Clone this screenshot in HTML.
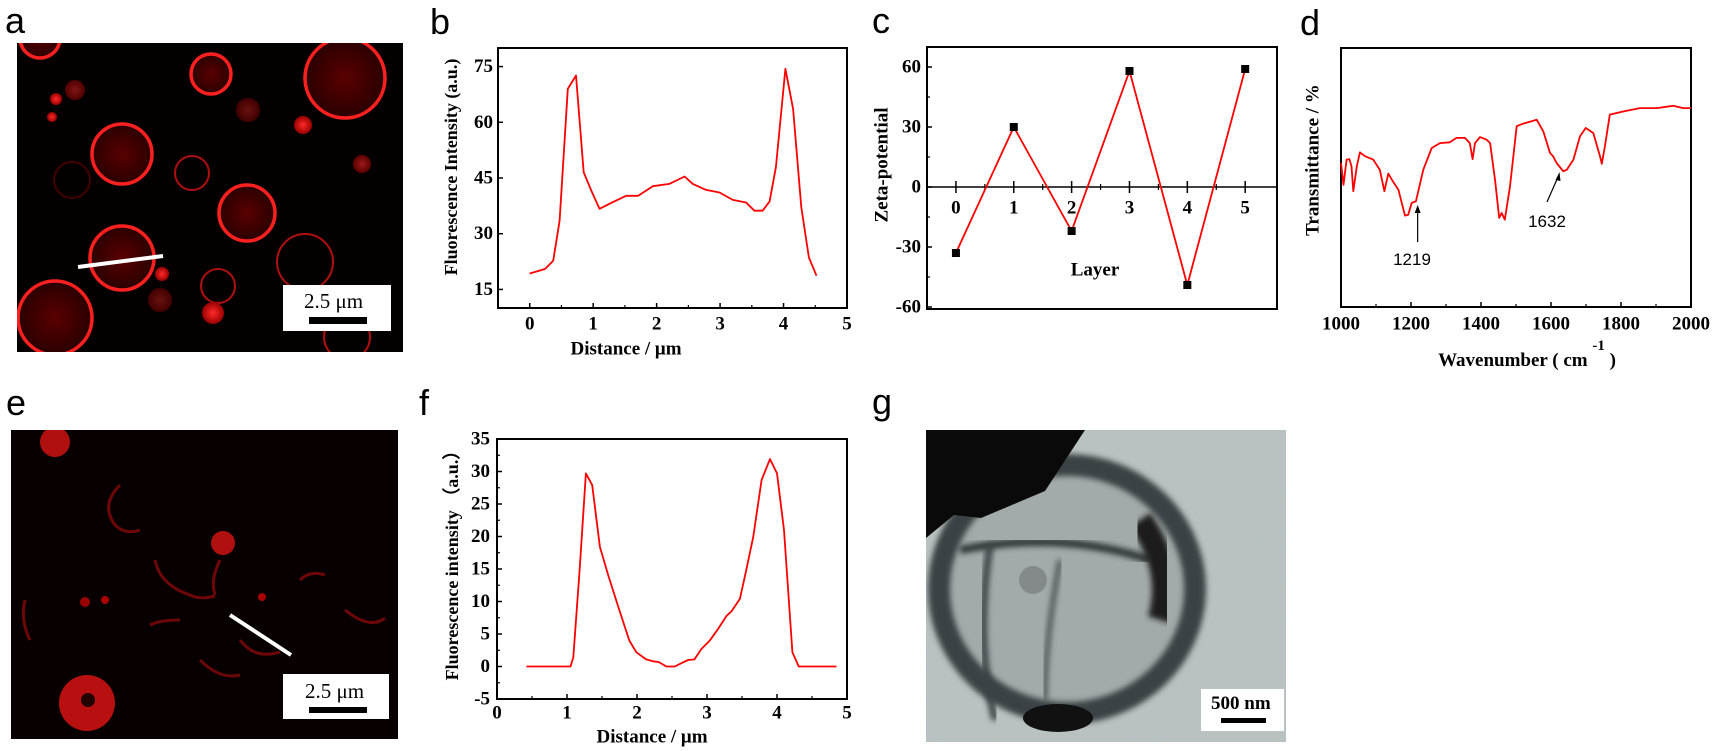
<!DOCTYPE html>
<html><head><meta charset="utf-8"><style>
html,body{margin:0;padding:0;background:#fff;}
svg{display:block;}
.ser{font-family:"Liberation Serif",serif;font-weight:bold;}
.lab{font-family:"Liberation Sans",sans-serif;font-size:36px;}
</style></head><body>
<svg id="fig" width="1716" height="751" viewBox="0 0 1716 751" xmlns="http://www.w3.org/2000/svg">
<defs>
<radialGradient id="cellg" cx="50%" cy="50%" r="50%"><stop offset="0%" stop-color="#5a0000"/><stop offset="100%" stop-color="#2a0000"/></radialGradient>
<radialGradient id="blob" cx="50%" cy="50%" r="50%"><stop offset="0%" stop-color="#ff2a2a"/><stop offset="100%" stop-color="#990000"/></radialGradient>
<filter id="noise" x="0" y="0" width="100%" height="100%"><feTurbulence type="fractalNoise" baseFrequency="0.25" numOctaves="2" seed="3"/><feColorMatrix values="0 0 0 0 0.5  0 0 0 0 0.52  0 0 0 0 0.52  0 0 0 0.35 0"/></filter>
<filter id="blur3"><feGaussianBlur stdDeviation="3"/></filter>
<clipPath id="clipA"><rect x="17" y="43" width="386" height="309"/></clipPath>
<clipPath id="clipE"><rect x="11" y="430" width="387" height="309"/></clipPath>
<clipPath id="clipG"><rect x="926" y="430" width="360" height="312"/></clipPath>
</defs>

<!-- Panel labels -->
<text class="lab" x="5" y="33">a</text>
<text class="lab" x="430" y="34">b</text>
<text class="lab" x="872" y="33">c</text>
<text class="lab" x="1300" y="35">d</text>
<text class="lab" x="6" y="415">e</text>
<text class="lab" x="419" y="415">f</text>
<text class="lab" x="872" y="414">g</text>

<!-- Panel a: fluorescence image -->
<g clip-path="url(#clipA)">
<rect x="17" y="43" width="386" height="309" fill="#050000"/>
<g fill="url(#cellg)" stroke="#ff2020" stroke-width="3.5">
<circle cx="40" cy="38" r="20"/><circle cx="211" cy="74" r="20"/><circle cx="345" cy="78" r="40"/>
<circle cx="122" cy="154" r="30"/><circle cx="247" cy="213" r="28"/><circle cx="122" cy="258" r="32"/>
<circle cx="55" cy="318" r="37"/>
</g>
<g fill="none" stroke="#b01010" stroke-width="2">
<circle cx="192" cy="173" r="17"/><circle cx="305" cy="262" r="28"/><circle cx="218" cy="286" r="17"/><circle cx="347" cy="337" r="23"/><circle cx="72" cy="180" r="18" stroke="#400"/>
</g>
<g fill="url(#blob)">
<circle cx="303" cy="125" r="9"/><circle cx="213" cy="313" r="11"/><circle cx="162" cy="274" r="7"/><circle cx="56" cy="99" r="6"/><circle cx="52" cy="117" r="5"/><circle cx="362" cy="164" r="9" opacity=".6"/>
<circle cx="75" cy="90" r="10" opacity=".5"/><circle cx="248" cy="110" r="12" opacity=".4"/><circle cx="160" cy="300" r="12" opacity=".4"/>
</g>
<line x1="78" y1="267" x2="163" y2="256" stroke="#fff" stroke-width="4"/>
<rect x="283" y="285" width="108" height="46" fill="#fff"/>
<text x="304" y="308" font-family="Liberation Serif,serif" font-size="21">2.5 μm</text>
<rect x="309" y="317" width="58" height="7" fill="#000"/>
</g>

<!-- Panel e -->
<g clip-path="url(#clipE)">
<rect x="11" y="430" width="387" height="309" fill="#080000"/>
<g fill="none" stroke="#7a0808" stroke-width="3" opacity=".9">
<path d="M120 485 Q100 505 115 525 Q125 535 140 530"/>
<path d="M155 560 Q160 585 190 595 Q200 600 215 596"/>
<path d="M150 625 Q160 620 180 620"/>
<path d="M220 560 Q210 580 215 595"/>
<path d="M240 640 Q255 660 280 652"/>
<path d="M300 580 Q310 570 325 575"/>
<path d="M345 610 Q370 630 385 618"/>
<path d="M200 660 Q220 680 240 675"/>
<path d="M25 600 Q20 620 30 640"/>
</g>
<circle cx="55" cy="442" r="15" fill="#b01010"/>
<circle cx="223" cy="543" r="12" fill="#b01010"/>
<circle cx="87" cy="703" r="28" fill="#b81010"/>
<circle cx="88" cy="700" r="7" fill="#200"/>
<circle cx="262" cy="597" r="4" fill="#a00"/><circle cx="105" cy="600" r="4" fill="#a00"/><circle cx="85" cy="602" r="5" fill="#900"/>
<line x1="230" y1="615" x2="291" y2="655" stroke="#fff" stroke-width="4"/>
<rect x="283" y="674" width="106" height="45" fill="#fff"/>
<text x="305" y="698" font-family="Liberation Serif,serif" font-size="21">2.5 μm</text>
<rect x="309" y="707" width="58" height="6" fill="#000"/>
</g>

<!-- Panel g: TEM image -->
<g clip-path="url(#clipG)">
<rect x="926" y="430" width="360" height="312" fill="#b9c2c2"/>
<rect x="926" y="430" width="360" height="312" filter="url(#noise)"/>
<ellipse cx="1067" cy="589" rx="128" ry="124" fill="#a3aaab"/>
<ellipse cx="1067" cy="589" rx="128" ry="124" fill="none" stroke="#3b4244" stroke-width="22" filter="url(#blur3)"/>
<path d="M926 430 L1085 430 L1045 491 L981 518 L954 515 L926 538 Z" fill="#0a0a0a"/>
<path d="M960 550 Q1060 530 1150 560" fill="none" stroke="#2f3536" stroke-width="8" filter="url(#blur3)"/>
<path d="M990 545 Q975 640 995 720" fill="none" stroke="#3b4244" stroke-width="7" filter="url(#blur3)"/>
<path d="M1060 560 Q1045 640 1045 700" fill="none" stroke="#4a5254" stroke-width="5" filter="url(#blur3)"/>
<path d="M1140 520 Q1175 570 1160 620" fill="none" stroke="#1a1d1e" stroke-width="25" filter="url(#blur3)"/>
<ellipse cx="1058" cy="718" rx="35" ry="14" fill="#111"/>
<ellipse cx="1033" cy="580" rx="14" ry="14" fill="#7c8283" opacity=".8"/>
<rect x="1201" y="689" width="83" height="42" fill="#fff"/>
<text x="1211" y="709" class="ser" font-size="19">500 nm</text>
<rect x="1221" y="718" width="45" height="5" fill="#000"/>
</g>

<g id="charts"></g>
</svg>
<script>
// ---- Panel b data ----
var bX = [0,0.24,0.37,0.47,0.6,0.73,0.85,0.97,1.10,1.31,1.52,1.71,1.94,2.2,2.44,2.57,2.78,2.99,3.2,3.41,3.54,3.67,3.78,3.88,4.03,4.15,4.28,4.4,4.52];
var bY = [19.3,20.5,22.7,33.5,69,72.6,46.5,41.6,36.7,38.5,40.2,40.2,42.8,43.4,45.4,43.4,41.8,41.1,39.1,38.4,36.2,36.2,38.7,47.9,74.4,63.6,37.1,23.6,18.7];
var bXTicks = ["0","1","2","3","4","5"];
var bYTicks = ["15","30","45","60","75"];
// ---- Panel c data ----
var cLayers = [0,1,2,3,4,5];
var cZeta = [-33,30,-22,58,-49,59];
var cXTicks = ["0","1","2","3","4","5"];
var cYTicks = ["-60","-30","0","30","60"];
// ---- Panel d data ----
var dWn = [1000,1007,1016,1024,1030,1035,1045,1054,1069,1092,1111,1124,1135,1145,1164,1183,1192,1202,1214,1235,1259,1283,1311,1330,1354,1368,1376,1383,1397,1416,1426,1440,1452,1459,1468,1483,1502,1521,1559,1578,1597,1606,1616,1635,1645,1664,1683,1699,1721,1740,1745,1754,1768,1806,1854,1902,1949,1978,2000];
var dT = [55.6,47.2,56.9,57.1,54.3,44.7,54.3,59.7,58.2,56.9,53.0,44.7,51.5,49.2,45.3,35.3,35.6,40.2,40.8,53.0,61.4,63.3,63.6,65.3,65.3,63.3,57.1,63.3,65.6,64.6,63.3,49.2,34.4,36.3,33.7,46.6,69.8,70.8,72.3,67.8,59.5,58.2,55.6,52.4,53.0,56.9,65.9,69.1,67.2,58.2,55.3,62.0,74.3,75.5,76.8,76.8,77.7,76.8,76.8];
var dXTicks = ["1000","1200","1400","1600","1800","2000"];
// ---- Panel f data ----
var fX = [0.42,1.05,1.09,1.18,1.27,1.36,1.47,1.59,1.75,1.89,1.99,2.13,2.23,2.31,2.42,2.54,2.63,2.73,2.82,2.92,3.04,3.16,3.28,3.35,3.47,3.56,3.66,3.78,3.90,4.0,4.10,4.22,4.31,4.85];
var fY = [0,0,1.4,14.8,29.7,27.9,18.4,14,8.6,4.0,2.2,1.1,0.8,0.7,0,0,0.5,1.0,1.1,2.7,4.0,5.8,7.8,8.5,10.4,14.8,19.9,28.7,31.9,29.7,21.0,2.2,0,0];
var fXTicks = ["0","1","2","3","4","5"];
var fYTicks = ["-5","0","5","10","15","20","25","30","35"];

var NS = "http://www.w3.org/2000/svg";
var root = document.getElementById('charts');
function mk(tag, attrs, parent, txt){
  var e = document.createElementNS(NS, tag);
  for (var k in attrs) e.setAttribute(k, attrs[k]);
  if (txt !== undefined) e.textContent = txt;
  (parent || root).appendChild(e);
  return e;
}
function scale(d0,d1,r0,r1){ return function(v){ return r0 + (v-d0)/(d1-d0)*(r1-r0); }; }
function box(g,l,t,r,b){
  var e = mk('rect',{x:l,y:t,width:r-l,height:b-t,fill:'none',stroke:'#000','stroke-width':2},g);
  
  
}
function poly(g,xs,ys,sx,sy,name){
  var pts = xs.map(function(x,i){ return sx(x).toFixed(1)+','+sy(ys[i]).toFixed(1); }).join(' ');
  var e = mk('polyline',{points:pts,fill:'none',stroke:'#ff0000','stroke-width':1.8,'stroke-linejoin':'round'},g);
  
  
}
function ytitle(g,x,y,txt,name,size){
  var e = mk('text',{x:x,y:y,transform:'rotate(-90 '+x+' '+y+')','text-anchor':'middle','dominant-baseline':'central','class':'ser','font-size':size||19},g,txt);
  
  
  return e;
}
function xtitle(g,x,y,txt,name){
  var e = mk('text',{x:x,y:y,'text-anchor':'middle','dominant-baseline':'central','class':'ser','font-size':19},g,txt);
  
  
  return e;
}

// ===== Panel b =====
(function(){
  var g = mk('g',{});
  
  
  var L=498,T=48,R=847,B=308;
  var sx = scale(-0.5,5,L,R), sy = scale(10,80,B,T);
  box(g,L,T,R,B);
  bXTicks.forEach(function(t){
    var v=+t, x=sx(v);
    mk('line',{x1:x,y1:B,x2:x,y2:B-5,stroke:'#000','stroke-width':1.5},g);
    mk('line',{x1:sx(v-0.5),y1:B,x2:sx(v-0.5),y2:B-3,stroke:'#000','stroke-width':1.2},g);
    var e = mk('text',{x:x,y:324,'text-anchor':'middle','dominant-baseline':'central','class':'ser','font-size':19},g,t);
    
    
  });
  bYTicks.forEach(function(t){
    var v=+t, y=sy(v);
    mk('line',{x1:L,y1:y,x2:L+5,y2:y,stroke:'#000','stroke-width':1.5},g);
    var e = mk('text',{x:493,y:y,'text-anchor':'end','dominant-baseline':'central','class':'ser','font-size':19},g,t);
    
    
  });
  poly(g,bX,bY,sx,sy,'intensity-line-b');
  ytitle(g,451,167,'Fluorescence Intensity (a.u.)','y-axis-title-b',18);
  xtitle(g,626,349,'Distance / μm','x-axis-title-b');
})();

// ===== Panel c =====
(function(){
  var g = mk('g',{});
  
  
  var L=927,T=47,R=1277,B=309;
  var sx = scale(-0.5,5.55,L,R), sy = scale(-60,60,307,67);
  box(g,L,T,R,B);
  var y0 = sy(0);
  var zl = mk('line',{x1:L,y1:y0,x2:R,y2:y0,stroke:'#000','stroke-width':1.5},g);
  
  
  cXTicks.forEach(function(t){
    var v=+t, x=sx(v);
    mk('line',{x1:x,y1:y0-6,x2:x,y2:y0+6,stroke:'#000','stroke-width':1.5},g);
    if (v<5) mk('line',{x1:sx(v+0.5),y1:y0-3,x2:sx(v+0.5),y2:y0+3,stroke:'#000','stroke-width':1.2},g);
    var e = mk('text',{x:x,y:208,'text-anchor':'middle','dominant-baseline':'central','class':'ser','font-size':19},g,t);
    
    
  });
  cYTicks.forEach(function(t){
    var v=+t, y=sy(v);
    mk('line',{x1:L,y1:y,x2:L+5,y2:y,stroke:'#000','stroke-width':1.5},g);
    if (v<60) mk('line',{x1:L,y1:sy(v+15),x2:L+3,y2:sy(v+15),stroke:'#000','stroke-width':1.2},g);
    var e = mk('text',{x:921,y:y,'text-anchor':'end','dominant-baseline':'central','class':'ser','font-size':19},g,t);
    
    
  });
  poly(g,cLayers,cZeta,sx,sy,'zeta-line-c');
  cLayers.forEach(function(l,i){
    var m = mk('rect',{x:sx(l)-4,y:sy(cZeta[i])-4,width:8,height:8,fill:'#000'},g);
    
    
  });
  ytitle(g,882,165,'Zeta-potential','y-axis-title-c');
  xtitle(g,1095,270,'Layer','x-axis-title-c');
})();

// ===== Panel d =====
(function(){
  var g = mk('g',{});
  
  
  var L=1341,T=48,R=1691,B=307;
  var sx = scale(1000,2000,L,R), sy = scale(0,100,B,T);
  box(g,L,T,R,B);
  dXTicks.forEach(function(t,i){
    var v=+t, x=sx(v);
    mk('line',{x1:x,y1:B,x2:x,y2:B-5,stroke:'#000','stroke-width':1.5},g);
    if (v<2000) mk('line',{x1:sx(v+100),y1:B,x2:sx(v+100),y2:B-3,stroke:'#000','stroke-width':1.2},g);
    var e = mk('text',{x:x,y:324,'text-anchor':'middle','dominant-baseline':'central','class':'ser','font-size':19},g,t);
    
    
  });
  poly(g,dWn,dT,sx,sy,'ftir-spectrum-d');
  var a1 = mk('line',{x1:sx(1219),y1:242,x2:sx(1219),y2:208,stroke:'#000','stroke-width':1.2},g);
  
  
  mk('path',{d:'M'+(sx(1219)-3)+' 213 L'+sx(1219)+' 205 L'+(sx(1219)+3)+' 213 Z',fill:'#000'},g);
  var t1 = mk('text',{x:1412,y:265,'text-anchor':'middle','font-family':'Liberation Sans,sans-serif','font-size':17},g,'1219');
  
  
  var a2 = mk('line',{x1:1547,y1:202,x2:1558,y2:177,stroke:'#000','stroke-width':1.2},g);
  
  
  mk('path',{d:'M1555.5 180 L1559.5 172 L1560.5 181 Z',fill:'#000'},g);
  var t2 = mk('text',{x:1547,y:227,'text-anchor':'middle','font-family':'Liberation Sans,sans-serif','font-size':17},g,'1632');
  
  
  ytitle(g,1313,160,'Transmittance / %','y-axis-title-d');
  var xt = mk('text',{x:1527,y:366,'text-anchor':'middle','class':'ser','font-size':19},g);
  
  
  mk('tspan',{},xt,'Wavenumber ( cm ');
  mk('tspan',{dy:-16,'font-size':15},xt,'-1');
  mk('tspan',{dy:16},xt,' )');
})();

// ===== Panel f =====
(function(){
  var g = mk('g',{});
  
  
  var L=497,T=439,R=847,B=699;
  var sx = scale(0,5,L,R), sy = scale(-5,35,B,T);
  box(g,L,T,R,B);
  fXTicks.forEach(function(t){
    var v=+t, x=sx(v);
    mk('line',{x1:x,y1:B,x2:x,y2:B-5,stroke:'#000','stroke-width':1.5},g);
    if (v<5) mk('line',{x1:sx(v+0.5),y1:B,x2:sx(v+0.5),y2:B-3,stroke:'#000','stroke-width':1.2},g);
    var e = mk('text',{x:x,y:713,'text-anchor':'middle','dominant-baseline':'central','class':'ser','font-size':19},g,t);
    
    
  });
  fYTicks.forEach(function(t){
    var v=+t, y=sy(v);
    mk('line',{x1:L,y1:y,x2:L+5,y2:y,stroke:'#000','stroke-width':1.5},g);
    if (v<35) mk('line',{x1:L,y1:sy(v+2.5),x2:L+3,y2:sy(v+2.5),stroke:'#000','stroke-width':1.2},g);
    var e = mk('text',{x:490,y:y,'text-anchor':'end','dominant-baseline':'central','class':'ser','font-size':19},g,t);
    
    
  });
  poly(g,fX,fY,sx,sy,'intensity-line-f');
  var yt = ytitle(g,452,561,'Fluorescence intensity （a.u.）','y-axis-title-f',18);
  yt.setAttribute('font-family','"Liberation Serif","Noto Serif CJK SC",serif');
  xtitle(g,652,737,'Distance / μm','x-axis-title-f');
})();
</script>
</body></html>
